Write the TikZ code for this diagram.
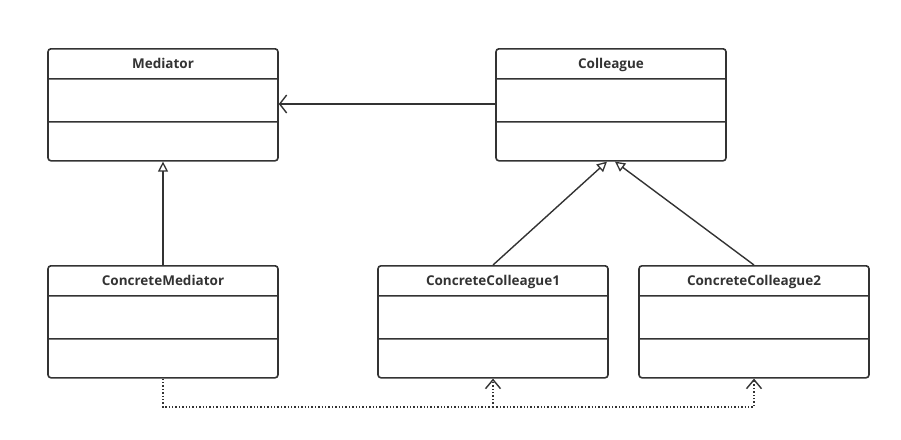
\documentclass[tikz,border=0pt]{standalone}
\usepackage{fontspec}
\setmainfont{Open Sans}
\usepackage{xcolor}
\usepackage{tikz}
\usetikzlibrary{arrows.meta, positioning, shapes.multipart}
\definecolor{umlgray}{HTML}{333333}

\begin{document}
\begin{tikzpicture}[
      x=1pt, y=-1pt,
      cls/.style={draw=umlgray, line width=1.6pt, rounded corners=3pt, rectangle split, rectangle split parts=3,
                  minimum width=230pt, inner xsep=0pt, inner ysep=0pt, text=umlgray,
                  font=\fontsize{13.5}{15}\selectfont\bfseries},
      assoc/.style={draw=umlgray, line width=1.4pt, -{Straight Barb[length=7pt,width=18pt,line width=1.4pt]}},
      inherit/.style={draw=umlgray, line width=1.4pt, -{Triangle[open,length=10pt,width=10pt,line width=1.3pt]}},
      dep/.style={draw=umlgray, line width=1.4pt, dotted},
      deptip/.style={-{Straight Barb[length=9pt,width=15pt,line width=1.4pt]}},
      every node/.style={font=\small}
      ]
    \useasboundingbox (0,0) rectangle (901,439);

    % Nodes
    \node[cls, anchor=north] (med) at (163,48)
      {\rule[-9.5pt]{0pt}{28.4pt}Mediator\nodepart{second}\rule{0pt}{41.4pt}\nodepart{third}\rule{0pt}{37.4pt}};
    \node[cls, anchor=north] (col) at (611,48)
      {\rule[-9.5pt]{0pt}{28.4pt}Colleague\nodepart{second}\rule{0pt}{41.4pt}\nodepart{third}\rule{0pt}{37.4pt}};
    \node[cls, anchor=north] (cmed) at (163,265)
      {\rule[-9.5pt]{0pt}{28.4pt}ConcreteMediator\nodepart{second}\rule{0pt}{41.4pt}\nodepart{third}\rule{0pt}{37.4pt}};
    \node[cls, anchor=north] (cc1) at (493,265)
      {\rule[-9.5pt]{0pt}{28.4pt}ConcreteColleague1\nodepart{second}\rule{0pt}{41.4pt}\nodepart{third}\rule{0pt}{37.4pt}};
    \node[cls, anchor=north] (cc2) at (754,265)
      {\rule[-9.5pt]{0pt}{28.4pt}ConcreteColleague2\nodepart{second}\rule{0pt}{41.4pt}\nodepart{third}\rule{0pt}{37.4pt}};
    \coordinate (bus) at (163,407);

    % Arrows
    \draw[assoc] (col.west |- 0,104) -- (med.east |- 0,104);
    \draw[inherit] (cmed.north) -- (med.south);
    \draw[inherit] (cc1.north) -- ([xshift=-4pt]col.south);
    \draw[inherit] (cc2.north) -- ([xshift=4pt]col.south);
    \draw[dep] (cmed.south) -- (bus) -- (cc1.south |- bus);
    \draw[dep, deptip] (bus -| cc1.south) -- (cc1.south);
    \draw[dep, deptip] (cc1.south |- bus) -- (bus -| cc2.south) -- (cc2.south);

\end{tikzpicture}
\end{document}
